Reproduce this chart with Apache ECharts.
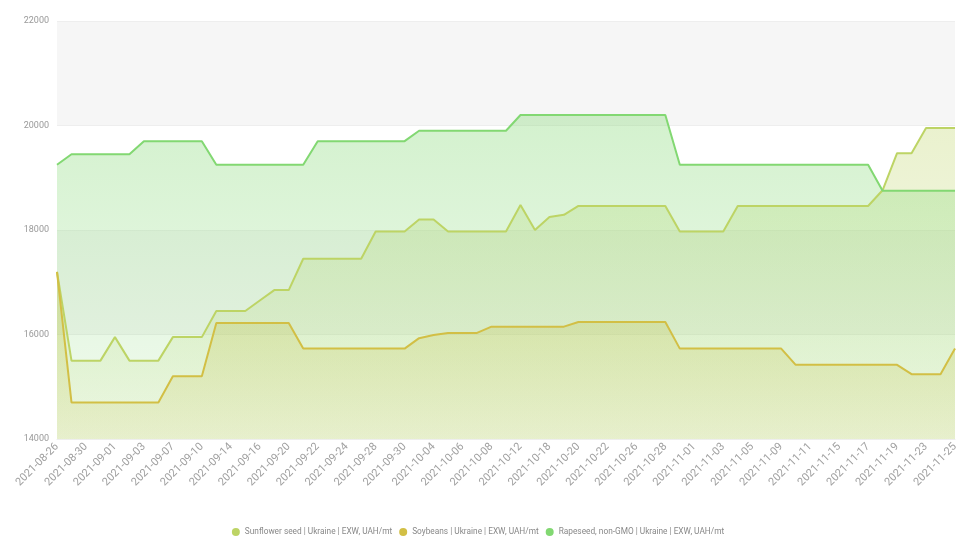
<!DOCTYPE html>
<html>
<head>
<meta charset="utf-8">
<script src="https://cdn.jsdelivr.net/npm/echarts@6/dist/echarts.min.js"></script>
<style>
  html, body { margin: 0; padding: 0; background: #fff; }
  #chart { width: 956px; height: 546px; }
</style>
</head>
<body>
<div id="chart"></div>
<script>
// dates (trading days)
var dates = [
  '2021-08-26', '2021-08-27', '2021-08-30', '2021-08-31', '2021-09-01', '2021-09-02', '2021-09-03',
  '2021-09-06', '2021-09-07', '2021-09-08', '2021-09-10', '2021-09-13', '2021-09-14', '2021-09-15',
  '2021-09-16', '2021-09-17', '2021-09-20', '2021-09-21', '2021-09-22', '2021-09-23', '2021-09-24',
  '2021-09-27', '2021-09-28', '2021-09-29', '2021-09-30', '2021-10-01', '2021-10-04', '2021-10-05',
  '2021-10-06', '2021-10-07', '2021-10-08', '2021-10-11', '2021-10-12', '2021-10-13', '2021-10-18',
  '2021-10-19', '2021-10-20', '2021-10-21', '2021-10-22', '2021-10-25', '2021-10-26', '2021-10-27',
  '2021-10-28', '2021-10-29', '2021-11-01', '2021-11-02', '2021-11-03', '2021-11-04', '2021-11-05',
  '2021-11-08', '2021-11-09', '2021-11-10', '2021-11-11', '2021-11-12', '2021-11-15', '2021-11-16',
  '2021-11-17', '2021-11-18', '2021-11-19', '2021-11-22', '2021-11-23', '2021-11-24', '2021-11-25'
]

var seriesNames = [
  'Sunflower seed | Ukraine | EXW, UAH/mt',
  'Soybeans | Ukraine | EXW, UAH/mt',
  'Rapeseed, non-GMO | Ukraine | EXW, UAH/mt'
]

var sunflower = [
  17200, 15500, 15500, 15500, 15950, 15500, 15500, 15500, 15950, 15950, 15950,
  16450, 16450, 16450, 16650, 16850, 16850,
  17450, 17450, 17450, 17450, 17450, 17970, 17970, 17970,
  18200, 18200, 17970, 17970, 17970, 17970, 17970,
  18480, 18000, 18250, 18290, 18460, 18460, 18460, 18460, 18460, 18460, 18460,
  17970, 17970, 17970, 17970,
  18460, 18460, 18460, 18460, 18460, 18460, 18460, 18460, 18460, 18460,
  18760, 19470, 19470, 19950, 19950, 19950
]

var soybeans = [
  17200, 14700, 14700, 14700, 14700, 14700, 14700, 14700, 15200, 15200, 15200,
  16220, 16220, 16220, 16220, 16220, 16220,
  15730, 15730, 15730, 15730, 15730, 15730, 15730, 15730,
  15930, 15990, 16030, 16030, 16030, 16150, 16150, 16150, 16150, 16150, 16150,
  16240, 16240, 16240, 16240, 16240, 16240, 16240,
  15730, 15730, 15730, 15730, 15730, 15730, 15730, 15730,
  15420, 15420, 15420, 15420, 15420, 15420, 15420, 15420,
  15240, 15240, 15240, 15730
]

var rapeseed = [
  19250, 19450, 19450, 19450, 19450, 19450, 19700, 19700, 19700, 19700, 19700,
  19250, 19250, 19250, 19250, 19250, 19250, 19250,
  19700, 19700, 19700, 19700, 19700, 19700, 19700,
  19900, 19900, 19900, 19900, 19900, 19900, 19900,
  20200, 20200, 20200, 20200, 20200, 20200, 20200, 20200, 20200, 20200, 20200,
  19250, 19250, 19250, 19250, 19250, 19250, 19250, 19250, 19250, 19250, 19250, 19250, 19250, 19250,
  18750, 18750, 18750, 18750, 18750, 18750
]

var yTicks = [14000, 22000, 2000]

var colors = ['#bdd465', '#d2bf45', '#82d872']

function areaFill(c, top, bottom) {
  return new echarts.graphic.LinearGradient(0, 0, 0, 1, [
    { offset: 0, color: echarts.color.modifyAlpha(c, top) },
    { offset: 1, color: echarts.color.modifyAlpha(c, bottom) }
  ])
}

var myChart = echarts.init(document.getElementById('chart'))

var values = [sunflower, soybeans, rapeseed]
var fills = [[0.45, 0.15], [0.45, 0.2], [0.5, 0.15]]

var option = {
  animation: false,
  color: colors,
  grid: { left: 57, right: 1, top: 21, bottom: 107, outerBoundsMode: 'none' },
  legend: {
    bottom: 5,
    icon: 'circle',
    itemWidth: 8,
    itemHeight: 8,
    itemGap: 7,
    textStyle: { color: '#888', fontSize: 8.3, fontFamily: 'Roboto' },
    data: seriesNames
  },
  xAxis: {
    type: 'category',
    boundaryGap: false,
    data: dates,
    axisLine: { lineStyle: { color: '#eeeeee' } },
    axisTick: { show: false },
    axisLabel: {
      interval: 1,
      rotate: 45,
      color: '#a0a0a0',
      fontSize: 11,
      fontFamily: 'Roboto',
      margin: 6
    }
  },
  yAxis: {
    type: 'value',
    min: yTicks[0],
    max: yTicks[1],
    interval: yTicks[2],
    axisLine: { show: false },
    axisTick: { show: false },
    axisLabel: {
      color: '#999',
      fontSize: 9,
      fontFamily: 'Roboto',
      margin: 8,
      formatter: function (v) { return String(v) }
    },
    splitLine: { lineStyle: { color: '#eeeeee' } },
    splitArea: { show: true, areaStyle: { color: ['#ffffff', '#f6f6f6'] } }
  },
  series: values.map(function (v, k) {
    return {
      name: seriesNames[k],
      type: 'line',
      data: v,
      symbol: 'none',
      lineStyle: { width: 2, color: colors[k] },
      areaStyle: { color: areaFill(colors[k], fills[k][0], fills[k][1]) }
    }
  })
}

myChart.setOption(option)
</script>
</body>
</html>
